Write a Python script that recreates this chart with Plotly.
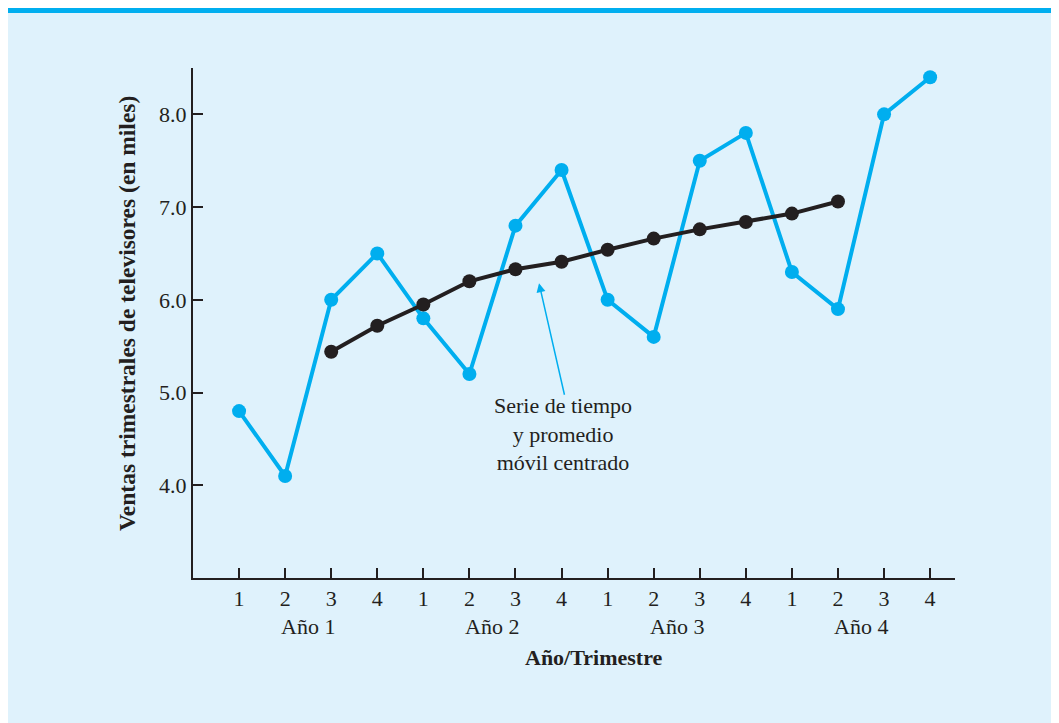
import plotly.graph_objects as go

periods = list(range(1, 17))
quarter_labels = ["1", "2", "3", "4"] * 4
year_labels = ["Año 1", "Año 2", "Año 3", "Año 4"]
year_centers = [2.5, 6.5, 10.5, 14.5]
sales = [4.8, 4.1, 6.0, 6.5, 5.8, 5.2, 6.8, 7.4, 6.0, 5.6, 7.5, 7.8, 6.3, 5.9, 8.0, 8.4]
cma_periods = list(range(3, 15))
cma = [5.44, 5.72, 5.95, 6.2, 6.33, 6.41, 6.54, 6.66, 6.76, 6.84, 6.93, 7.06]

CYAN = "#00aeef"
DARK = "#231f20"
PANEL = "#dff2fc"
FONT = "Liberation Serif"

OFF = 8  # page offset of the figure (body margin)
W, H = 1059, 723
# plot area in page pixels: x 193..955, y 68..578
L = 193 - OFF
T = 68 - OFF
R = W - (955 - OFF)
B = H - (578 - OFF)
pw, ph = W - L - R, H - T - B

def px2paper_x(px):
    return (px - OFF - L) / pw

def px2paper_y(py):
    return (H - B - (py - OFF)) / ph

fig = go.Figure()
fig.add_trace(go.Scatter(x=periods, y=sales, mode="lines+markers",
                         line=dict(color=CYAN, width=4),
                         marker=dict(color=CYAN, size=14),
                         showlegend=False, cliponaxis=False))
fig.add_trace(go.Scatter(x=cma_periods, y=cma, mode="lines+markers",
                         line=dict(color=DARK, width=4),
                         marker=dict(color=DARK, size=14),
                         showlegend=False, cliponaxis=False))

shapes = [
    dict(type="rect", xref="paper", yref="paper", layer="below",
         x0=px2paper_x(0), x1=px2paper_x(W + 20), y0=px2paper_y(13), y1=px2paper_y(0),
         fillcolor=CYAN, line=dict(width=0)),
]

annotations = []
for lab, xc in zip(year_labels, year_centers):
    annotations.append(dict(x=xc, y=px2paper_y(626), xref="x", yref="paper",
                            text=lab, showarrow=False, yanchor="middle",
                            font=dict(family=FONT, size=22, color=DARK)))
annotations.append(dict(x=px2paper_x(593), y=px2paper_y(657), xref="paper", yref="paper",
                        text="<b>Año/Trimestre</b>", showarrow=False, yanchor="middle",
                        font=dict(family=FONT, size=22, color=DARK)))
annotations.append(dict(x=px2paper_x(127), y=px2paper_y(314), xref="paper", yref="paper",
                        text="<b>Ventas trimestrales de televisores (en miles)</b>",
                        textangle=-90, showarrow=False, xanchor="center", yanchor="middle",
                        font=dict(family=FONT, size=23.5, color=DARK)))
annotations.append(dict(x=7.51, y=6.18, ax=8.07, ay=4.96, xref="x", yref="y",
                        axref="x", ayref="y", text="", showarrow=True,
                        arrowhead=2, arrowsize=1.2, arrowwidth=1.5, arrowcolor=CYAN))
annotations.append(dict(x=8.03, y=4.55, xref="x", yref="y",
                        text="Serie de tiempo<br>y promedio<br>móvil centrado",
                        showarrow=False, align="center", xanchor="center", yanchor="middle",
                        font=dict(family=FONT, size=22, color=DARK)))

fig.update_layout(
    width=W, height=H,
    margin=dict(l=L, r=R, t=T, b=B),
    paper_bgcolor=PANEL,
    plot_bgcolor="rgba(0,0,0,0)",
    shapes=shapes,
    annotations=annotations,
    xaxis=dict(range=[0, 16.54], tickmode="array", tickvals=periods, ticktext=quarter_labels,
               ticks="inside", ticklen=10, tickwidth=2, tickcolor=DARK,
               showline=True, linecolor=DARK, linewidth=2, showgrid=False, zeroline=False,
               tickfont=dict(family=FONT, size=22, color=DARK)),
    yaxis=dict(range=[3.0, 8.5], tickmode="array", tickvals=[4, 5, 6, 7, 8],
               ticktext=["4.0", "5.0", "6.0", "7.0", "8.0"],
               ticks="inside", ticklen=10, tickwidth=2, tickcolor=DARK,
               showline=True, linecolor=DARK, linewidth=2, showgrid=False, zeroline=False,
               tickfont=dict(family=FONT, size=22, color=DARK)),
)

fig.write_html("out.html")
